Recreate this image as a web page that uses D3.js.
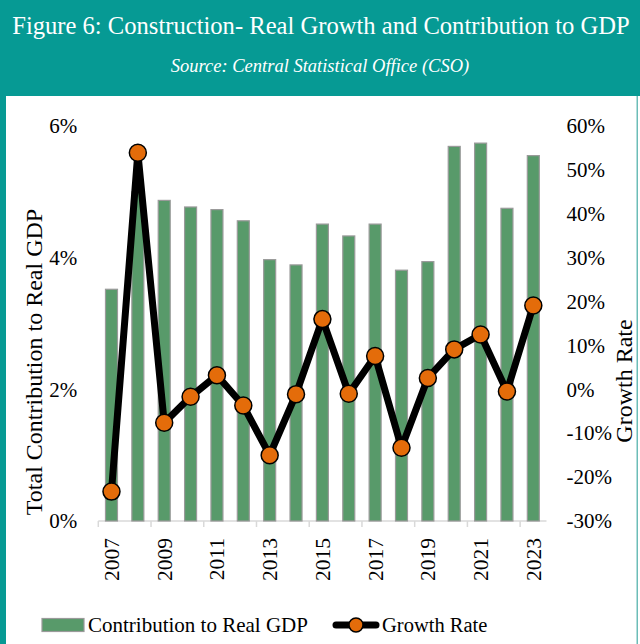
<!DOCTYPE html>
<html>
<head>
<meta charset="utf-8">
<script src="https://cdn.jsdelivr.net/npm/d3@7"></script>
<style>
  html, body { margin: 0; padding: 0; background: #fff; }
  svg { display: block; font-family: "Liberation Serif", "DejaVu Serif", serif; }
</style>
</head>
<body>
<div id="chart"></div>
<script>
// values
const years = ["2007","2008","2009","2010","2011","2012","2013","2014","2015",
               "2016","2017","2018","2019","2020","2021","2022","2023"];
const contribution = [3.52, 5.0, 4.87, 4.77, 4.73, 4.56, 3.97, 3.89, 4.51,
                      4.33, 4.51, 3.81, 3.94, 5.69, 5.74, 4.75, 5.55];   // % of real GDP
const growthRate = [-23.3, 53.9, -7.6, -1.7, 3.2, -3.7, -15.0, -1.1, 16.0,
                    -1.0, 7.6, -13.3, 2.6, 9.1, 12.5, -0.5, 19.1];        // %
const leftTicks = [0, 2, 4, 6];
const rightTicks = [-30, -20, -10, 0, 10, 20, 30, 40, 50, 60];

const W = 640, H = 644;
const TEAL = "#069a94";
const BAR = "#589a6a";
const ORANGE = "#e46c0a";
const SERIF = '"Liberation Serif", "DejaVu Serif", serif';

const svg = d3.select("#chart").append("svg")
    .attr("width", W)
    .attr("height", H);

// frame + header band
svg.append("rect").attr("x", 0).attr("y", 0).attr("width", W).attr("height", 96).attr("fill", TEAL);
svg.append("rect").attr("x", 0).attr("y", 0).attr("width", 6).attr("height", H).attr("fill", TEAL);
svg.append("rect").attr("x", 636.5).attr("y", 96).attr("width", 1.5).attr("height", H - 96).attr("fill", "#6cbdb8");

svg.append("text")
    .attr("x", W / 2 + 1).attr("y", 34)
    .attr("text-anchor", "middle")
    .attr("fill", "#fff")
    .style("font-size", "24.6px")
    .style("font-weight", "500")
    .text("Figure 6: Construction- Real Growth and Contribution to GDP");

svg.append("text")
    .attr("x", W / 2).attr("y", 72)
    .attr("text-anchor", "middle")
    .attr("fill", "#fff")
    .style("font-size", "18.5px")
    .style("font-style", "italic")
    .text("Source: Central Statistical Office (CSO)");

// plot area
const plot = { left: 98.3, right: 546.5, top: 126, bottom: 521 };

const x = d3.scaleBand()
    .domain(years)
    .range([plot.left, plot.right])
    .paddingInner(0.545)
    .paddingOuter(0.2725);

const yL = d3.scaleLinear().domain([0, 6]).range([plot.bottom, plot.top]);
const yR = d3.scaleLinear().domain([-30, 60]).range([plot.bottom, plot.top]);

const pct = d => String(d).replace("\u2212", "-") + "%";

// x axis line and ticks (every other category boundary)
svg.append("line")
    .attr("x1", plot.left).attr("x2", plot.right)
    .attr("y1", plot.bottom).attr("y2", plot.bottom)
    .attr("stroke", "#d9d9d9").attr("stroke-width", 1.5);

const gap = (x.step() - x.bandwidth()) / 2;
svg.append("g").selectAll("line")
    .data(years.filter((d, i) => i % 2 === 0))
    .join("line")
    .attr("x1", d => x(d) - gap).attr("x2", d => x(d) - gap)
    .attr("y1", plot.bottom).attr("y2", plot.bottom + 6)
    .attr("stroke", "#d9d9d9").attr("stroke-width", 1.5);

// bars
svg.append("g").selectAll("rect")
    .data(years)
    .join("rect")
    .attr("x", d => x(d))
    .attr("y", (d, i) => yL(contribution[i]))
    .attr("width", x.bandwidth())
    .attr("height", (d, i) => yL(0) - yL(contribution[i]))
    .attr("fill", BAR)
    .attr("stroke", "#9a9a9a")
    .attr("stroke-width", 1.2);

// growth line
const line = d3.line()
    .x((d, i) => x(years[i]) + x.bandwidth() / 2)
    .y(d => yR(d));

svg.append("path")
    .datum(growthRate)
    .attr("d", line)
    .attr("fill", "none")
    .attr("stroke", "#000")
    .attr("stroke-width", 7)
    .attr("stroke-linejoin", "round");

svg.append("g").selectAll("circle")
    .data(growthRate)
    .join("circle")
    .attr("cx", (d, i) => x(years[i]) + x.bandwidth() / 2)
    .attr("cy", d => yR(d))
    .attr("r", 8.5)
    .attr("fill", ORANGE)
    .attr("stroke", "#000")
    .attr("stroke-width", 1.5);

// left axis
const gl = svg.append("g")
    .attr("transform", `translate(${plot.left - 21},0)`)
    .call(d3.axisLeft(yL).tickValues(leftTicks).tickSize(0).tickPadding(0).tickFormat(pct));
gl.select(".domain").remove();
gl.selectAll("text")
    .style("font-family", SERIF).style("font-size", "21px").attr("fill", "#000");

// right axis
const gr = svg.append("g")
    .attr("transform", `translate(${plot.right + 20},0)`)
    .call(d3.axisRight(yR).tickValues(rightTicks).tickSize(0).tickPadding(0).tickFormat(pct));
gr.select(".domain").remove();
gr.selectAll("text")
    .style("font-family", SERIF).style("font-size", "21px").attr("fill", "#000");

// x labels, every other year
svg.append("g").selectAll("text")
    .data(years.filter((d, i) => i % 2 === 0))
    .join("text")
    .attr("transform", d => `translate(${x(d) + x.bandwidth() / 2 + 7.5},538) rotate(-90)`)
    .attr("text-anchor", "end")
    .style("font-size", "21.5px")
    .text(d => d);

// axis titles
svg.append("text")
    .attr("transform", "translate(42,362) rotate(-90)")
    .attr("text-anchor", "middle")
    .style("font-size", "24px")
    .text("Total Contribution to Real GDP");

svg.append("text")
    .attr("transform", "translate(632,381) rotate(-90)")
    .attr("text-anchor", "middle")
    .style("font-size", "24px")
    .text("Growth Rate");

// legend
const lg = svg.append("g").attr("transform", "translate(0,625)");
lg.append("rect")
    .attr("x", 42).attr("y", -6.5).attr("width", 42).attr("height", 13)
    .attr("fill", BAR).attr("stroke", "#9a9a9a").attr("stroke-width", 1.2);
lg.append("text").attr("x", 88).attr("y", 7).style("font-size", "21px")
    .text("Contribution to Real GDP");
lg.append("line")
    .attr("x1", 336).attr("x2", 376).attr("y1", 0).attr("y2", 0)
    .attr("stroke", "#000").attr("stroke-width", 7).attr("stroke-linecap", "round");
lg.append("circle")
    .attr("cx", 356).attr("cy", 0).attr("r", 7)
    .attr("fill", ORANGE).attr("stroke", "#000").attr("stroke-width", 1.5);
lg.append("text").attr("x", 382).attr("y", 7).style("font-size", "20.5px")
    .text("Growth Rate");
</script>
</body>
</html>
